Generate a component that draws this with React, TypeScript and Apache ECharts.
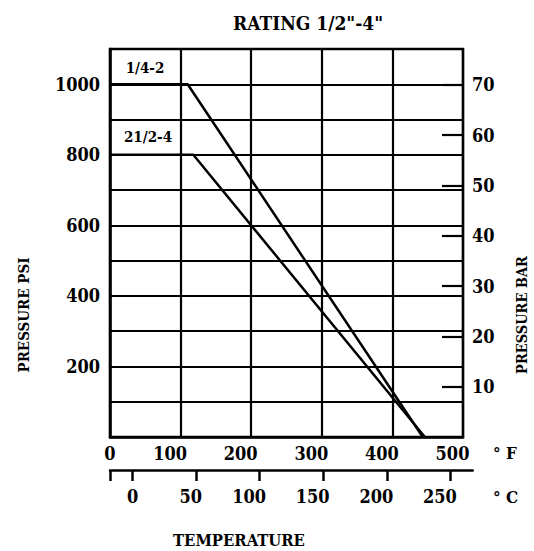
import React, { useEffect, useRef } from "react";
import * as echarts from "echarts";

const titleText = 'RATING 1/2"-4"';
const fahrenheitTicks = [0, 100, 200, 300, 400, 500];
const celsiusTicks = [0, 50, 100, 150, 200, 250];
const psiLabels = [200, 400, 600, 800, 1000];
const barLabels = [10, 20, 30, 40, 50, 60, 70];
const seriesNames = ["1/4-2", "21/2-4"];
const smallSizeTempF = [0, 110, 443];
const smallSizePsi = [1000, 1000, 0];
const largeSizeTempF = [0, 118, 446];
const largeSizePsi = [800, 800, 0];

const FONT = "'DejaVu Serif Condensed', 'DejaVu Serif', serif";
const C_MIN = ((0 - 32) * 5) / 9;
const C_MAX = 267.6;
const LABEL_SIZE = 18;

const digitRich = (size: number) => ({
  d1: { fontSize: size, fontWeight: "bold", fontFamily: FONT, color: "#000" },
  d2: { fontSize: size, fontWeight: "bold", fontFamily: FONT, color: "#000", padding: [0, 11, 0, 0] },
  d3: { fontSize: size, fontWeight: "bold", fontFamily: FONT, color: "#000", padding: [0, 21, 0, 0] },
});
const digitFmt = (v: number) => `{d${String(v).length}|${v}}`;

export default function App() {
  const ref = useRef<HTMLDivElement>(null);
  useEffect(() => {
    if (!ref.current) return;
    const chart = echarts.init(ref.current, null, { renderer: "svg" });
    const txt = { fontFamily: FONT, fontWeight: "bold", color: "#000", fontSize: LABEL_SIZE };
    chart.setOption({
      animation: false,
      backgroundColor: "#ffffff",
      title: {
        text: titleText,
        left: 228,
        top: 8,
        textStyle: { ...txt, fontSize: 19 },
      },
      grid: [
        { left: 110, top: 49, width: 353, height: 388, show: true, borderColor: "#000", borderWidth: 2.5, backgroundColor: "transparent" },
        { left: 110, top: 460, width: 362.7, height: 10, show: false },
      ],
      xAxis: [
        {
          type: "value",
          gridIndex: 0,
          min: 0,
          max: 500,
          interval: 100,
          axisLine: { show: true, lineStyle: { color: "#000", width: 2.5 } },
          axisTick: { show: false },
          splitLine: { show: true, lineStyle: { color: "#000", width: 2.2 } },
          axisLabel: {
            customValues: fahrenheitTicks,
            margin: 7,
            formatter: digitFmt,
            rich: digitRich(LABEL_SIZE),
            ...txt,
          },
        },
        {
          type: "value",
          gridIndex: 1,
          position: "bottom",
          min: C_MIN,
          max: C_MAX,
          axisLine: { show: true, lineStyle: { color: "#000", width: 2.5 } },
          axisTick: {
            show: true,
            customValues: [C_MIN, ...celsiusTicks],
            length: 11,
            lineStyle: { color: "#000", width: 2.5 },
          },
          splitLine: { show: false },
          axisLabel: {
            customValues: celsiusTicks,
            margin: 17,
            formatter: digitFmt,
            rich: digitRich(LABEL_SIZE),
            ...txt,
          },
        },
      ],
      yAxis: [
        {
          type: "value",
          gridIndex: 0,
          min: 0,
          max: 1100,
          interval: 100,
          axisLine: { show: true, lineStyle: { color: "#000", width: 2.5 } },
          axisTick: { show: false },
          splitLine: { show: true, lineStyle: { color: "#000", width: 2.2 } },
          axisLabel: { customValues: psiLabels, margin: 10, formatter: (v: number) => String(v), ...txt },
        },
        {
          type: "value",
          gridIndex: 0,
          position: "right",
          min: 0,
          max: 77.1,
          axisLine: { show: false },
          axisTick: {
            show: true,
            inside: true,
            length: 21,
            customValues: barLabels,
            lineStyle: { color: "#000", width: 2.2 },
          },
          splitLine: { show: false },
          axisLabel: { customValues: barLabels, margin: 9, formatter: (v: number) => String(v), ...txt },
        },
        { type: "value", gridIndex: 1, show: false, min: 0, max: 1 },
      ],
      graphic: [
        { type: "text", x: 145, y: 68, style: { text: seriesNames[0], fill: "#000", font: `bold 15px ${FONT}`, align: "center", verticalAlign: "middle" } },
        { type: "text", x: 148, y: 137, style: { text: seriesNames[1], fill: "#000", font: `bold 15px ${FONT}`, align: "center", verticalAlign: "middle" } },
        { type: "text", x: 24, y: 315, rotation: Math.PI / 2, style: { text: "PRESSURE PSI", fill: "#000", font: `bold 15px ${FONT}`, align: "center", verticalAlign: "middle" } },
        { type: "text", x: 521, y: 315, rotation: Math.PI / 2, style: { text: "PRESSURE BAR", fill: "#000", font: `bold 14.5px ${FONT}`, align: "center", verticalAlign: "middle" } },
        { type: "text", x: 239, y: 540, style: { text: "TEMPERATURE", fill: "#000", font: `bold 16.5px ${FONT}`, align: "center", verticalAlign: "middle" } },
        { type: "text", x: 493, y: 453, style: { text: "° F", fill: "#000", font: `bold 17px ${FONT}`, align: "left", verticalAlign: "middle" } },
        { type: "text", x: 493, y: 497, style: { text: "° C", fill: "#000", font: `bold 17px ${FONT}`, align: "left", verticalAlign: "middle" } },
      ],
      series: [
        {
          name: seriesNames[0],
          type: "line",
          xAxisIndex: 0,
          yAxisIndex: 0,
          symbol: "none",
          data: smallSizeTempF.map((t, i) => [t, smallSizePsi[i]]),
          lineStyle: { color: "#000", width: 2.5 },
          z: 5,
        },
        {
          name: seriesNames[1],
          type: "line",
          xAxisIndex: 0,
          yAxisIndex: 0,
          symbol: "none",
          data: largeSizeTempF.map((t, i) => [t, largeSizePsi[i]]),
          lineStyle: { color: "#000", width: 2.5 },
          z: 5,
        },
      ],
    });
    return () => chart.dispose();
  }, []);
  return <div ref={ref} style={{ position: "fixed", left: 0, top: 0, width: 534, height: 551 }} />;
}
